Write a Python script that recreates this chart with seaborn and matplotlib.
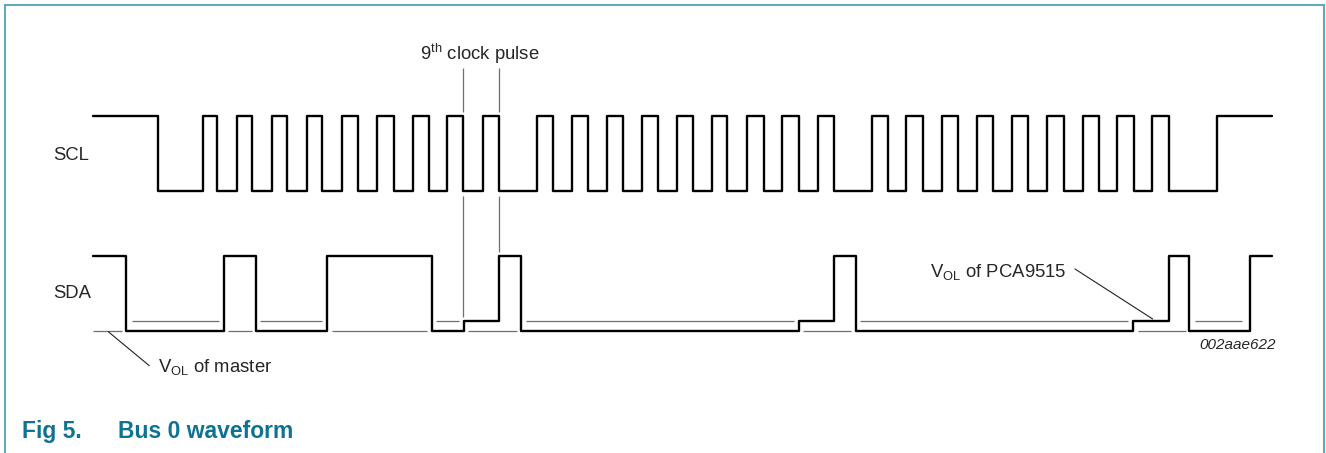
import matplotlib
matplotlib.use("Agg")
import matplotlib.pyplot as plt
import seaborn as sns
import pandas as pd

# ---------------- data ----------------
# SCL edge times (time axis in layout units) and the level after each edge (1 = high, 0 = low)
scl_t = [93.3, 158.3, 202.7, 217.3, 236.7, 251.7, 271.7, 286.7, 306.7, 322.3,
         341.7, 358.3, 376.7, 394.0, 412.7, 429.3, 447.3, 463.3, 482.7, 499.0,
         536.7, 553.3, 571.7, 588.3, 606.7, 623.3, 641.7, 658.3, 676.7, 693.3,
         711.7, 727.3, 746.7, 764.0, 781.7, 799.0, 817.7, 834.0, 871.7, 888.3,
         906.0, 923.3, 941.7, 958.3, 976.7, 993.3, 1011.7, 1028.3, 1046.7, 1064.0,
         1082.7, 1099.0, 1117.3, 1134.0, 1151.7, 1169.0, 1216.7, 1272.3]
scl_level = [1, 0, 1, 0, 1, 0, 1, 0, 1, 0,
             1, 0, 1, 0, 1, 0, 1, 0, 1, 0,
             1, 0, 1, 0, 1, 0, 1, 0, 1, 0,
             1, 0, 1, 0, 1, 0, 1, 0, 1, 0,
             1, 0, 1, 0, 1, 0, 1, 0, 1, 0,
             1, 0, 1, 0, 1, 0, 1, 1]

# SDA edge times and state after each edge: H = high, M = VOL of master, P = VOL of PCA9515
sda_t = [93.3, 125.7, 224.0, 255.7, 326.7, 431.7, 464.0, 499.3, 520.7,
         799.0, 834.3, 855.7, 1133.3, 1169.0, 1189.0, 1250.0, 1272.3]
sda_state = ["H", "M", "H", "M", "H", "M", "P", "H", "M",
             "P", "H", "M", "P", "H", "M", "H", "H"]
state_value = {"H": 1.0, "M": 0.0, "P": 0.133}

# thin reference lines showing the other low level
ref_start = [93.3, 131.7, 228.3, 260.0, 331.7, 436.0, 468.3, 526.0, 803.3, 860.0, 1138.3, 1195.0]
ref_end = [121.7, 219.3, 251.7, 321.7, 426.7, 459.3, 516.7, 794.0, 851.0, 1128.3, 1185.7, 1242.3]
ref_state = ["M", "P", "M", "P", "M", "P", "M", "P", "M", "P", "M", "P"]

# 9th clock pulse markers
ack_marks = [463.3, 499.0]

# ---------------- layout ----------------
W, H = 1326, 453
SDA_BASE_PX = 330.7      # pixel row of SDA master-low
SWING_PX = 75.2          # pixel height of a full logic swing
SCL_OFFSET = 1.86        # SCL trace offset (logic units)


def v(py):
    """pixel row -> axis value"""
    return (SDA_BASE_PX - py) / SWING_PX


sns.set_theme(style="white")
plt.rcParams["font.family"] = ["Liberation Sans", "DejaVu Sans"]
plt.rcParams["mathtext.default"] = "regular"

fig = plt.figure(figsize=(W / 100, H / 100), dpi=100)
ax = fig.add_axes([0, 0, 1, 1])
ax.set_xlim(0, W)
ax.set_ylim(v(H), v(0))
ax.axis("off")

LW = 1.7
GRAY = "#6f6f6f"

scl_df = pd.DataFrame({"t": scl_t, "y": [SCL_OFFSET + l for l in scl_level]})
sda_df = pd.DataFrame({"t": sda_t, "y": [state_value[s] for s in sda_state]})

sns.lineplot(data=scl_df, x="t", y="y", ax=ax, drawstyle="steps-post",
             estimator=None, sort=False, color="black", lw=LW)
sns.lineplot(data=sda_df, x="t", y="y", ax=ax, drawstyle="steps-post",
             estimator=None, sort=False, color="black", lw=LW)

ax.hlines([state_value[s] for s in ref_state], ref_start, ref_end,
          color=GRAY, lw=0.9)

# 9th clock pulse marker lines
ax.vlines(ack_marks, v(111.7), v(68.3), color=GRAY, lw=0.9)
ax.vlines(ack_marks[0], state_value["P"] + 0.05, v(196), color=GRAY, lw=0.9)
ax.vlines(ack_marks[1], state_value["H"] + 0.05, v(196), color=GRAY, lw=0.9)

# leader lines
ax.plot([108.3, 149.3], [v(331.7), v(365.7)], color="#222222", lw=0.8)
ax.plot([1075.0, 1152.7], [v(269.0), v(319.0)], color="#222222", lw=0.8)


def ftext(x, y, s, **kw):
    fig.text(x / W, 1 - y / H, s, **kw)


FS = 13.3
ftext(53, 156, "SCL", fontsize=FS, va="center", ha="left")
ftext(53, 294, "SDA", fontsize=FS, va="center", ha="left")
ftext(420.5, 60, r"9$^{th}$ clock pulse", fontsize=FS, va="baseline", ha="left")
ftext(158.3, 372.3, r"V$_{OL}$ of master", fontsize=FS, va="baseline", ha="left")
ftext(930, 276.7, r"V$_{OL}$ of PCA9515", fontsize=FS, va="baseline", ha="left")
ftext(1276, 349, "002aae622", fontsize=11, style="italic", va="baseline", ha="right")

TEAL = "#0e7390"
ftext(21.7, 438, "Fig 5.", fontsize=16.5, fontweight="bold", color=TEAL, va="baseline", ha="left")
ftext(118.3, 438, "Bus 0 waveform", fontsize=16.5, fontweight="bold", color=TEAL, va="baseline", ha="left")

# frame (left, top, right)
BORDER = "#62a9bb"
ax.plot([4.5, 4.5, 1323.5, 1323.5], [v(H), v(4.5), v(4.5), v(H)], color=BORDER, lw=1.5,
        solid_joinstyle="miter")

fig.savefig("out.png", dpi=100)
